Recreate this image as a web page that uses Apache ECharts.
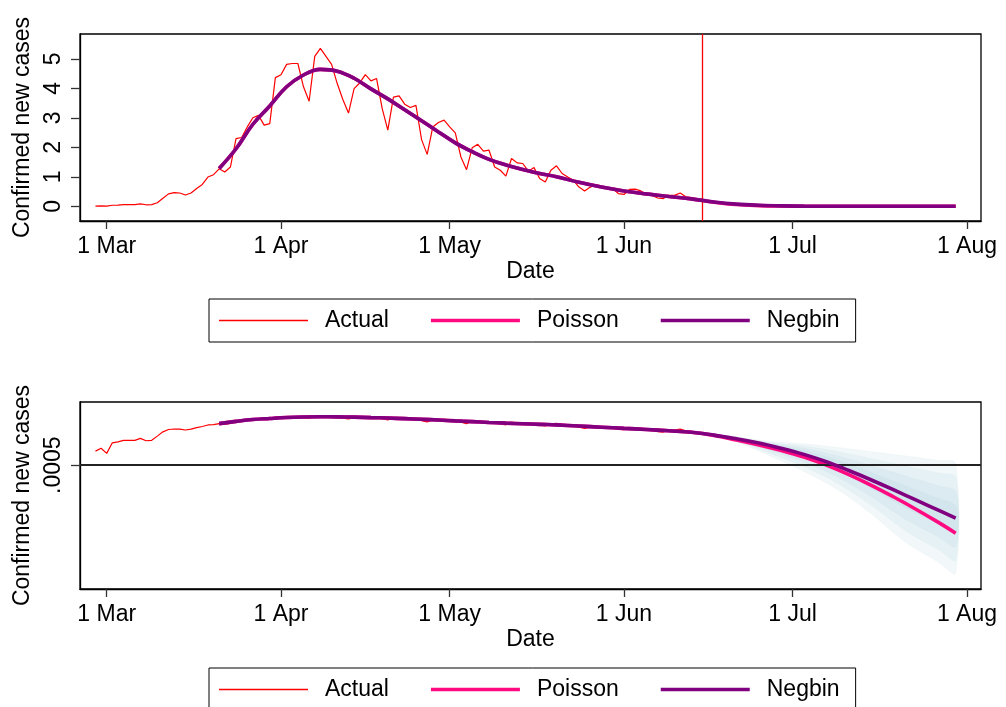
<!DOCTYPE html>
<html>
<head>
<meta charset="utf-8">
<script src="https://cdn.jsdelivr.net/npm/echarts@6/dist/echarts.min.js"></script>
<style>
html, body { margin: 0; padding: 0; background: #fff; }
#chart { width: 1006px; height: 707px; }
</style>
</head>
<body>
<div id="chart"></div>
<script>
// x values are days counted from 1 Mar 2020
const tickDays = [0, 31, 61, 92, 122, 153];
const tickLabels = ['1 Mar', '1 Apr', '1 May', '1 Jun', '1 Jul', '1 Aug'];
const yTicksTop = [0, 1, 2, 3, 4, 5];
const refLevel = 0.0005;      // the .0005 line of the lower panel
const refLabel = '.0005';
const cutoffDay = 106;        // 15 Jun, red vertical line

// actual confirmed new cases, one value per day from 28 Feb (day -2) to 14 Jun (day 105)
const actualStart = -2;
const actual = [
  0.007, 0.012, 0.0046, 0.034, 0.04, 0.054, 0.054, 0.054, 0.078, 0.05,
  0.054, 0.12, 0.27, 0.42, 0.46, 0.45, 0.38, 0.45, 0.6, 0.74,
  0.99, 1.07, 1.27, 1.16, 1.33, 2.29, 2.33, 2.69, 3.0, 3.08,
  2.75, 2.8, 4.36, 4.46, 4.81, 4.84, 4.84, 4.05, 3.56, 5.08,
  5.35, 5.08, 4.81, 4.16, 3.62, 3.16, 3.99, 4.18, 4.46, 4.25,
  4.33, 3.31, 2.58, 3.7, 3.74, 3.46, 3.35, 3.42, 2.26, 1.76,
  2.69, 2.84, 2.92, 2.69, 2.49, 1.67, 1.24, 1.98, 2.1, 1.87,
  1.9, 1.33, 1.22, 1.02, 1.62, 1.47, 1.45, 1.19, 1.31, 0.94,
  0.82, 1.22, 1.37, 1.11, 0.99, 0.88, 0.65, 0.52, 0.65, 0.73,
  0.68, 0.6, 0.6, 0.43, 0.4, 0.57, 0.58, 0.52, 0.41, 0.37,
  0.28, 0.26, 0.37, 0.37, 0.45, 0.32, 0.29, 0.2
];

// fitted curves
const fitDays = [20, 23, 26, 29, 32, 35, 38, 41, 44, 47, 50, 53, 56, 59, 62, 65, 68, 71, 74, 77,
  80, 84, 88, 92, 96, 100, 104, 108, 112, 116, 120, 124, 128, 132, 136, 140, 144, 148, 151];
const poisson = [1.28, 1.95, 2.78, 3.4, 4.05, 4.45, 4.64, 4.58, 4.34, 3.98, 3.64, 3.27, 2.9, 2.52,
  2.15, 1.85, 1.59, 1.4, 1.25, 1.11, 1.0, 0.81, 0.65, 0.52, 0.42, 0.33, 0.25,
  0.138, 0.0575, 0.0229, 0.0079, 0.0023, 5.0e-4, 8.3e-5, 1.1e-5, 1.2e-6, 1.15e-7, 9.5e-9, 1.3e-9];
const negbin = [1.28, 1.95, 2.78, 3.4, 4.05, 4.45, 4.64, 4.58, 4.34, 3.98, 3.64, 3.27, 2.9, 2.52,
  2.15, 1.85, 1.59, 1.4, 1.25, 1.11, 1.0, 0.81, 0.65, 0.52, 0.42, 0.33, 0.25,
  0.145, 0.072, 0.033, 0.012, 0.0038, 9.5e-4, 1.8e-4, 3.0e-5, 4.6e-6, 6.6e-7, 9.5e-8, 2.2e-8];

// forecast fan (log10 of cases), innermost band first
const bandDays = [106, 112, 118, 124, 130, 136, 142, 148, 151];
const bandUpper = [
  [-0.70, -1.10, -1.62, -2.11, -2.90, -3.91, -5.01, -6.06, -6.66],
  [-0.70, -1.06, -1.53, -1.92, -2.55, -3.34, -4.19, -5.01, -5.49],
  [-0.70, -1.02, -1.45, -1.74, -2.20, -2.77, -3.37, -3.97, -4.33],
  [-0.70, -0.98, -1.36, -1.55, -1.85, -2.20, -2.55, -2.92, -3.16]
];
const bandLower = [
  [-0.70, -1.21, -1.91, -2.67, -3.76, -5.19, -6.77, -8.15, -8.90],
  [-0.70, -1.27, -2.13, -3.05, -4.28, -5.89, -7.72, -9.20, -9.99],
  [-0.70, -1.34, -2.34, -3.42, -4.79, -6.60, -8.66, -10.25, -11.07],
  [-0.70, -1.40, -2.55, -3.80, -5.30, -7.30, -9.60, -11.30, -12.15]
];

const RED = '#ff0000', PINK = '#ff0a80', PURPLE = '#800080';
const FONT = 'Liberation Sans';

let chart = echarts.init(document.getElementById('chart'));

function xAxisFor(idx) {
  return {
    gridIndex: idx,
    type: 'value',
    min: -4.75,
    max: 155.5,
    name: 'Date',
    nameLocation: 'middle',
    nameGap: 39,
    nameTextStyle: {fontSize: 23, color: '#000', fontFamily: FONT},
    splitLine: {show: false},
    axisLine: {show: true, onZero: false, lineStyle: {color: '#000', width: 1.3}},
    axisTick: {show: true, customValues: tickDays, length: 8, lineStyle: {color: '#333', width: 1.3}},
    axisLabel: {
      customValues: tickDays,
      margin: 14,
      fontSize: 23,
      color: '#000',
      fontFamily: FONT,
      formatter: v => tickLabels[tickDays.indexOf(Math.round(v))]
    }
  }
}

function yAxisFor(idx, min, max, ticks, fmt) {
  return {
    gridIndex: idx,
    type: 'value',
    min: min,
    max: max,
    name: 'Confirmed new cases',
    nameLocation: 'middle',
    nameGap: 38,
    nameTextStyle: {fontSize: 23, color: '#000', fontFamily: FONT},
    splitLine: {show: false},
    axisLine: {show: true, onZero: false, lineStyle: {color: '#000', width: 1.3}},
    axisTick: {show: true, customValues: ticks, length: 9, lineStyle: {color: '#333', width: 1.3}},
    axisLabel: {
      customValues: ticks,
      rotate: 90,
      margin: 15,
      fontSize: 23,
      color: '#000',
      fontFamily: FONT,
      formatter: fmt
    }
  }
}

// legend keys are drawn as flat bars of the line's own thickness
function legendItem(name, color, width) {
  return {
    name: name,
    icon: 'path://M0,0H89V' + width + 'H0Z',
    itemStyle: {color: color, opacity: 1, borderWidth: 0}
  };
}

function legendAt(top) {
  return {
    left: 209,
    top: top,
    orient: 'horizontal',
    selectedMode: false,
    data: [
      legendItem('Actual', RED, 1.6),
      legendItem('Poisson', PINK, 3.6),
      legendItem('Negbin', PURPLE, 3.6)
    ],
    borderColor: '#000',
    borderWidth: 1,
    padding: [10, 16, 10, 10],
    itemWidth: 89,
    itemHeight: 14,
    itemGap: 42,
    symbolKeepAspect: true,
    textStyle: {fontSize: 23, color: '#000', fontFamily: FONT, padding: [0, 0, 0, 12]}
  }
}

const log10 = v => Math.log10(v);
const actualPts = actual.map((v, i) => [actualStart + i, v]);
const poissonPts = fitDays.map((d, i) => [d, poisson[i]]);
const negbinPts = fitDays.map((d, i) => [d, negbin[i]]);

let series = [
  {
    name: 'Actual', type: 'line', xAxisIndex: 0, yAxisIndex: 0, z: 3,
    data: actualPts, symbol: 'none',
    lineStyle: {color: RED, width: 1.2}, itemStyle: {color: RED},
    markLine: {
      silent: true, symbol: ['none', 'none'], label: {show: false},
      lineStyle: {color: RED, width: 1.3, type: 'solid'},
      data: [{xAxis: cutoffDay}]
    }
  },
  {
    name: 'Poisson', type: 'line', xAxisIndex: 0, yAxisIndex: 0, z: 4,
    data: poissonPts, symbol: 'none', smooth: 0.4,
    lineStyle: {color: PINK, width: 3.6}, itemStyle: {color: PINK}
  },
  {
    name: 'Negbin', type: 'line', xAxisIndex: 0, yAxisIndex: 0, z: 5,
    data: negbinPts, symbol: 'none', smooth: 0.4,
    lineStyle: {color: PURPLE, width: 3.6}, itemStyle: {color: PURPLE}
  },
  {
    name: 'Actual', type: 'line', xAxisIndex: 1, yAxisIndex: 1, z: 3,
    data: actualPts.map(p => [p[0], log10(p[1])]), symbol: 'none',
    lineStyle: {color: RED, width: 1.2}, itemStyle: {color: RED}
  }
];

// fan bands: one translucent polygon per band, corners placed through the axes
bandUpper.forEach((up, k) => {
  const lo = bandLower[k];
  let band = {
    name: 'band' + k, type: 'custom', xAxisIndex: 1, yAxisIndex: 1, z: k === 0 ? 1 : 2, silent: true,
    data: bandDays.map((d, i) => [d, lo[i], up[i]]),
    encode: {x: 0, y: [1, 2]},
    renderItem: (params, api) => {
      if (params.dataIndex !== 0) return null;
      const topPts = bandDays.map((d, i) => api.coord([d, up[i]]));
      const botPts = bandDays.map((d, i) => api.coord([d, lo[i]])).reverse();
      return {
        type: 'polygon',
        shape: {points: topPts.concat(botPts), smooth: 0.3},
        style: {fill: 'rgba(150,195,210,0.12)', stroke: 'rgba(150,185,195,0.08)', lineWidth: 1}
      };
    }
  };
  if (k === 0) {
    // the .0005 reference line, kept below the fan
    band.markLine = {
      silent: true, symbol: ['none', 'none'], label: {show: false},
      lineStyle: {color: '#222', width: 1.8, type: 'solid'},
      data: [{yAxis: log10(refLevel)}]
    };
  }
  series.push(band);
});

series.push(
  {
    name: 'Poisson', type: 'line', xAxisIndex: 1, yAxisIndex: 1, z: 4,
    data: poissonPts.map(p => [p[0], log10(p[1])]), symbol: 'none', smooth: 0.4,
    lineStyle: {color: PINK, width: 3.6}, itemStyle: {color: PINK}
  },
  {
    name: 'Negbin', type: 'line', xAxisIndex: 1, yAxisIndex: 1, z: 5,
    data: negbinPts.map(p => [p[0], log10(p[1])]), symbol: 'none', smooth: 0.4,
    lineStyle: {color: PURPLE, width: 3.6}, itemStyle: {color: PURPLE}
  }
);

chart.setOption({
  animation: false,
  backgroundColor: '#fff',
  textStyle: {fontFamily: FONT},
  grid: [
    {left: 80, top: 34, width: 901, height: 187, show: true, borderColor: '#000', borderWidth: 1.3},
    {left: 80, top: 402, width: 901, height: 187, show: true, borderColor: '#000', borderWidth: 1.3}
  ],
  legend: [legendAt(299), legendAt(668)],
  xAxis: [xAxisFor(0), xAxisFor(1)],
  yAxis: [
    yAxisFor(0, -0.5, 5.84, yTicksTop, v => String(Math.round(v))),
    yAxisFor(1, -13.47, 1.88, [log10(refLevel)], () => refLabel)
  ],
  series: series
});
</script>
</body>
</html>
